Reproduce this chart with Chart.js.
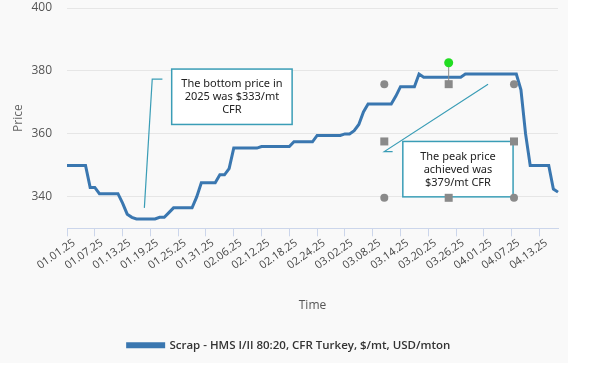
<!DOCTYPE html>
<html>
<head>
<meta charset="utf-8">
<script src="https://cdn.jsdelivr.net/npm/chart.js@4/dist/chart.umd.min.js"></script>
<style>
  html, body { margin: 0; padding: 0; background: #ffffff; }
  #wrap { width: 568px; height: 363px; background: #f9f9f9; }
</style>
</head>
<body>
<div id="wrap"><canvas id="priceChart"></canvas></div>
<script>
// daily series, Jan 1 2025 onward
var startDate = new Date(2025, 0, 1);
var seriesName = 'Scrap - HMS I/II 80:20, CFR Turkey, $/mt, USD/mton';
var prices = [
  350, 350, 350, 350, 350,
  343, 343,
  341, 341, 341, 341, 341,
  338, 334.5, 333.5,
  333, 333, 333, 333, 333,
  333.5, 333.5, 335,
  336.5, 336.5, 336.5, 336.5, 336.5,
  340, 344.5, 344.5, 344.5, 344.5,
  347, 347, 349,
  355.5, 355.5, 355.5, 355.5, 355.5, 355.5,
  356, 356, 356, 356, 356, 356, 356,
  357.5, 357.5, 357.5, 357.5, 357.5,
  359.5, 359.5, 359.5, 359.5, 359.5, 359.5,
  360, 360, 361, 363, 367,
  369.5, 369.5, 369.5, 369.5, 369.5, 369.5,
  372, 375, 375, 375, 375,
  379,
  378, 378, 378, 378, 378, 378, 378, 378, 378,
  379, 379, 379, 379, 379, 379, 379, 379, 379, 379, 379, 379,
  374, 360,
  350, 350, 350, 350, 350,
  342.5, 341.5
];
var yTicks = [340, 360, 380, 400];
var tickEvery = 6;

var dates = [];
for (var i = 0; i < prices.length; i++) {
  var d = new Date(startDate.getTime());
  d.setDate(d.getDate() + i);
  var mm = ('0' + (d.getMonth() + 1)).slice(-2);
  var dd = ('0' + d.getDate()).slice(-2);
  dates.push(mm + '.' + dd + '.25');
}

// callouts, placed in data space (x = day index, y = price)
var bottomNote = { x0: 22.6, x1: 48.6, y0: 380.6, y1: 363,
  text: ['The bottom price in', '2025 was $333/mt', 'CFR'],
  leader: [[16.7, 336.5], [18.4, 377.4], [20.6, 377.4]] };
var peakNote = { x0: 72.5, x1: 96.3, y0: 357.6, y1: 340,
  text: ['The peak price', 'achieved was', '$379/mt CFR'],
  leader: [[90.9, 375.8], [68.5, 354.4], [70.3, 354.4]] };
var handleCircles = [[68.5, 375.8], [96.5, 375.8], [68.5, 339.7], [96.5, 339.7]];
var handleSquares = [[82.4, 375.8], [68.5, 357.6], [96.5, 357.6], [82.4, 339.7]];
var rotateHandle = [82.4, 382.6];

function drawNote(ctx, xs, ys, note) {
  var l = xs.getPixelForValue(note.x0), r = xs.getPixelForValue(note.x1);
  var t = ys.getPixelForValue(note.y0), b = ys.getPixelForValue(note.y1);
  ctx.strokeStyle = '#3a9db6';
  ctx.lineWidth = 1.2;
  ctx.beginPath();
  note.leader.forEach(function (p, k) {
    var px = xs.getPixelForValue(p[0]), py = ys.getPixelForValue(p[1]);
    if (k === 0) ctx.moveTo(px, py); else ctx.lineTo(px, py);
  });
  ctx.stroke();
  ctx.fillStyle = '#ffffff';
  ctx.fillRect(l, t, r - l, b - t);
  ctx.lineWidth = 1.5;
  ctx.strokeRect(l, t, r - l, b - t);
  ctx.fillStyle = '#222222';
  ctx.font = '11px "Noto Sans"';
  ctx.textAlign = 'center';
  ctx.textBaseline = 'middle';
  var cx = (l + r) / 2;
  var lh = 13;
  var top = t + 15;
  note.text.forEach(function (s, k) { ctx.fillText(s, cx, top + k * lh); });
}

var calloutPlugin = {
  id: 'callouts',
  afterDatasetsDraw: function (chart) {
    var ctx = chart.ctx, xs = chart.scales.x, ys = chart.scales.y;
    ctx.save();
    drawNote(ctx, xs, ys, bottomNote);
    drawNote(ctx, xs, ys, peakNote);
    // selection handles round the peak note
    var gx = xs.getPixelForValue(rotateHandle[0]), gy = ys.getPixelForValue(rotateHandle[1]);
    var sy = ys.getPixelForValue(handleSquares[0][1]);
    ctx.strokeStyle = '#8c8c8c';
    ctx.lineWidth = 1;
    ctx.beginPath(); ctx.moveTo(gx, gy); ctx.lineTo(gx, sy); ctx.stroke();
    ctx.fillStyle = '#8a8a8a';
    handleCircles.forEach(function (p) {
      ctx.beginPath();
      ctx.arc(xs.getPixelForValue(p[0]), ys.getPixelForValue(p[1]), 4, 0, Math.PI * 2);
      ctx.fill();
    });
    handleSquares.forEach(function (p) {
      ctx.fillRect(xs.getPixelForValue(p[0]) - 4, ys.getPixelForValue(p[1]) - 4, 8, 8);
    });
    ctx.fillStyle = '#22dd22';
    ctx.beginPath(); ctx.arc(gx, gy, 4.5, 0, Math.PI * 2); ctx.fill();
    ctx.restore();
  }
};

var ctx = document.getElementById('priceChart');
var priceChart = new Chart(ctx, {
  type: 'line',
  data: {
    labels: dates,
    datasets: [{
      label: seriesName,
      data: prices,
      borderColor: '#3a77b0',
      backgroundColor: '#3a77b0',
      borderWidth: 3,
      pointRadius: 0,
      tension: 0
    }]
  },
  options: {
    responsive: true,
    maintainAspectRatio: false,
    animation: false,
    layout: { padding: { top: 8, right: 10, left: 20, bottom: 2 } },
    plugins: {
      tooltip: { enabled: false },
      legend: {
        position: 'bottom',
        labels: {
          boxWidth: 36,
          boxHeight: 3,
          padding: 12,
          color: '#333333',
          font: { family: '"Open Sans"', size: 11.5, weight: '600' }
        }
      }
    },
    scales: {
      x: {
        grid: { drawOnChartArea: false, drawTicks: true, tickLength: 8, color: '#ccd6eb' },
        border: { color: '#ccd6eb' },
        afterBuildTicks: function (scale) {
          scale.ticks = scale.ticks.filter(function (t) { return t.value % tickEvery === 0; });
        },
        afterFit: function (scale) {
          // rotated labels may hang left of the plot, as in the original
          scale.paddingLeft = 0;
          scale.paddingRight = 0;
        },
        ticks: {
          autoSkip: false,
          maxRotation: 35,
          minRotation: 35,
          padding: 0,
          labelOffset: 7,
          color: '#444444',
          font: { family: '"Open Sans"', size: 11 }
        },
        title: {
          display: true,
          text: 'Time',
          color: '#555555',
          font: { family: '"Open Sans"', size: 12 },
          padding: { top: 26, bottom: 15 }
        }
      },
      y: {
        min: 330,
        max: 400,
        afterBuildTicks: function (scale) {
          scale.ticks = yTicks.map(function (v) { return { value: v }; });
        },
        afterFit: function (scale) {
          scale.paddingTop = 0;
          scale.width = 47;
        },
        grid: { color: '#e6e6e6', drawTicks: false },
        border: { display: false },
        ticks: {
          padding: 15,
          color: '#555555',
          font: { family: '"Open Sans"', size: 12 }
        },
        title: {
          display: true,
          text: 'Price',
          color: '#666666',
          font: { family: '"Open Sans"', size: 12 },
          padding: { top: -9, bottom: 0 }
        }
      }
    }
  },
  plugins: [calloutPlugin]
});
</script>
</body>
</html>
